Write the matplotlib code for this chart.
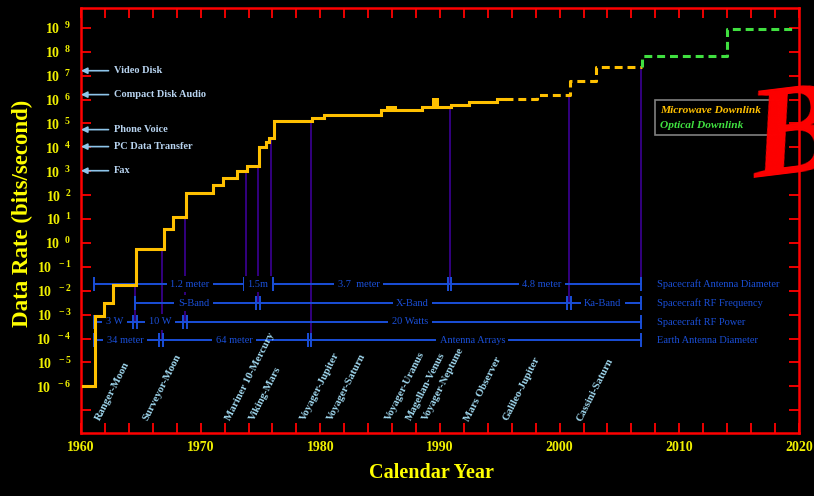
import numpy as np
import matplotlib
matplotlib.use('Agg')
from matplotlib import pyplot as plt
from matplotlib.ticker import FixedLocator, FuncFormatter, NullLocator

plt.rcParams['font.family'] = 'Liberation Serif'
plt.rcParams['mathtext.fontset'] = 'custom'
plt.rcParams['mathtext.rm'] = 'Liberation Serif:bold'
plt.rcParams['mathtext.it'] = 'Liberation Serif:bold'
plt.rcParams['mathtext.bf'] = 'Liberation Serif:bold'

# Deep space downlink capability (bits/second), measured microwave steps
mw_years = [1960.2, 1961.2, 1961.9, 1962.7, 1964.6, 1966.9, 1967.7, 1968.75,
            1971.0, 1971.9, 1973.0, 1973.9, 1974.9, 1975.5, 1975.7, 1976.1,
            1979.3, 1980.3, 1985.1, 1988.5, 1990.9, 1992.4, 1994.8, 1995.4]
mw_rates = [1e-6, 9e-4, 3e-3, 1.8e-2, 0.58, 4.0, 12.6, 126,
            257, 525, 1000, 1700, 10700, 17400, 24000, 123000,
            174000, 234000, 355000, 490000, 590000, 810000, 1.1e6, 1.1e6]

# short-lived peaks (arrayed antennas)
peak_years = [(1985.5, 1986.4), (1989.3, 1989.9)]
peak_base = [355000, 490000]
peak_top = [550000, 1.17e6]

# projected microwave and optical
mw_plan_years = [1995.4, 1998.1, 2000.9, 2003.0, 2006.9]
mw_plan_rates = [1.1e6, 1.6e6, 6.0e6, 2.2e7, 2.2e7]
opt_years = [2006.9, 2006.9, 2013.95, 2019.6]
opt_rates = [2.2e7, 6.6e7, 8.9e8, 8.9e8]

# reference data rates
ref_names = ['Video Disk', 'Compact Disk Audio', 'Phone Voice', 'PC Data Transfer', 'Fax']
ref_rates = [1.6e7, 1.6e6, 5.5e4, 1.07e4, 1.05e3]

# missions
missions = ['Ranger-Moon', 'Surveyor-Moon', 'Mariner 10-Mercury', 'Viking-Mars',
            'Voyager-Jupiter', 'Voyager-Saturn', 'Voyager-Uranus', 'Magellan-Venus',
            'Voyager-Neptune', 'Mars Observer', 'Galileo-Jupiter', 'Cassini-Saturn']
mission_years = [1961.6, 1965.6, 1972.5, 1974.5, 1978.7, 1981.0, 1985.8, 1987.6,
                 1988.9, 1992.4, 1995.7, 2001.8]

# technology rows
row_titles = ['Spacecraft Antenna Diameter', 'Spacecraft RF Frequency',
              'Spacecraft RF Power', 'Earth Antenna Diameter']
row_levels = [1.9e-2, 3.0e-3, 5.0e-4, 8.7e-5]
row_start = [1961.1, 1964.5, 1961.1, 1961.1]
row_end = 2006.8
row_breaks = [[1973.8, 1975.9, 1990.8], [1974.8, 2000.8], [1964.5, 1968.7], [1966.7, 1979.1]]
row_labels = [['1.2 meter', '1.5m', '3.7  meter', '4.8 meter'],
              ['S-Band', 'X-Band', 'Ka-Band'],
              ['3 W', '10 W', '20 Watts'],
              ['34 meter', '64 meter', 'Antenna Arrays']]
row_label_years = [[1969.1, 1974.8, 1983.2, 1998.5],
                   [1969.4, 1987.7, 2003.6],
                   [1962.8, 1966.6, 1987.5],
                   [1963.7, 1972.8, 1992.7]]

# drop lines from the rate curve to the technology rows
drop_years = [1964.5, 1966.8, 1968.7, 1973.8, 1974.8, 1975.9, 1979.2, 1990.8, 2000.8, 2006.8]
drop_rows = [2, 3, 2, 0, 1, 0, 3, 0, 1, 0]

YELLOW = '#ffc000'
BLUE = '#1a4fd8'
PURPLE = '#3c0096'
RED = '#ff0000'
TXT = '#f0f000'

fig = plt.figure(figsize=(8.14, 4.96), dpi=100, facecolor='black')
ax = fig.add_axes([0.0995, 0.127, 0.882, 0.857])
ax.set_facecolor('black')
ax.set_yscale('log')
ax.set_xlim(1960, 2020)
ax.set_ylim(10 ** -7.95, 10 ** 9.83)

all_years = mw_years + mw_plan_years[1:]
all_rates = mw_rates + mw_plan_rates[1:]


def rate_at(year):
    idx = max(i for i, y in enumerate(all_years) if y <= year)
    return all_rates[idx]


for yr, r in zip(drop_years, drop_rows):
    ax.plot([yr, yr], [rate_at(yr), row_levels[r]], color=PURPLE, lw=1.2, zorder=1)

for i, lvl in enumerate(row_levels):
    ax.plot([row_start[i], row_end], [lvl, lvl], color=BLUE, lw=1.4, zorder=2)
    ax.plot([row_start[i], row_end], [lvl, lvl], ls='none', marker='|',
            ms=10, mew=1.4, color=BLUE, zorder=2)
    for b in row_breaks[i]:
        ax.plot([b - 0.15, b + 0.15], [lvl, lvl], ls='none', marker='|',
                ms=10, mew=1.4, color=BLUE, zorder=2)
    for lab, x in zip(row_labels[i], row_label_years[i]):
        ax.text(x, lvl, lab, color=BLUE, fontsize=7.5, ha='center', va='center',
                zorder=3, bbox=dict(facecolor='black', edgecolor='none', pad=2.5))
    ax.text(2008.1, lvl, row_titles[i], color=BLUE, fontsize=7.5, ha='left',
            va='center', zorder=3)

ax.plot(mw_years, mw_rates, drawstyle='steps-post', color=YELLOW, lw=2.2,
        zorder=4, solid_joinstyle='miter')
for (x0, x1), lo, hi in zip(peak_years, peak_base, peak_top):
    ax.fill_between([x0, x1], [lo, lo], [hi, hi], color=YELLOW, lw=0, zorder=4)
mw_line, = ax.plot(mw_plan_years, mw_plan_rates, drawstyle='steps-post', color=YELLOW,
                   lw=2.2, dashes=(2.6, 1.6), zorder=4, label='Microwave Downlink')
opt_line, = ax.plot(opt_years, opt_rates, drawstyle='steps-post', color='#40e040',
                    lw=2.2, dashes=(2.6, 1.6), zorder=4, label='Optical Downlink')

for name, r in zip(ref_names, ref_rates):
    ax.annotate('', xy=(1960.0, r), xytext=(1962.3, r),
                arrowprops=dict(arrowstyle='-|>', color='#8ec5ea', lw=1.2,
                                mutation_scale=9, shrinkA=0, shrinkB=0))
    ax.text(1962.75, r, name, color='#b8d4f0', fontsize=7.5, fontweight='bold',
            ha='left', va='center')

for name, yr in zip(missions, mission_years):
    ax.text(yr, 10 ** -7.47, name, color='#a0d8ef', fontsize=7.8, fontweight='bold',
            rotation=63, rotation_mode='anchor', ha='left', va='baseline')

leg = ax.legend(handles=[mw_line, opt_line], loc='upper left',
                bbox_to_anchor=(0.80, 0.709, 0.172, 0.075), mode='expand',
                borderaxespad=0, handlelength=0, handletextpad=0, labelcolor='linecolor',
                facecolor='black', edgecolor='#808080', fancybox=False, framealpha=1,
                borderpad=0.45, labelspacing=0.45,
                prop=dict(family='Liberation Serif', weight='bold', style='italic', size=8.2))
leg.get_frame().set_linewidth(1.2)
for h in leg.legend_handles:
    h.set_visible(False)

for s in ax.spines.values():
    s.set_color(RED)
    s.set_linewidth(1.8)

ax.xaxis.set_major_locator(FixedLocator(np.arange(1960, 2021, 2)))
ax.xaxis.set_major_formatter(FuncFormatter(lambda v, p: '%d' % v if int(round(v)) % 10 == 0 else ''))
ax.yaxis.set_major_locator(FixedLocator(10.0 ** np.arange(-7, 10)))
ax.yaxis.set_minor_locator(NullLocator())


def decade_label(v, pos):
    e = int(round(np.log10(v)))
    if e < -6:
        return ''
    return r'$10^{\ \ %d}$' % e


ax.yaxis.set_major_formatter(FuncFormatter(decade_label))
ax.tick_params(axis='both', which='major', direction='in', length=7.5, width=1.3,
               color=RED, top=True, right=True, labelcolor=TXT, labelsize=10, pad=6)
ax.tick_params(axis='y', pad=7)
for lab in ax.get_xticklabels():
    lab.set_fontweight('bold')

fig.text(0.027, 0.57, 'Data Rate (bits/second)', color='#ffff00', fontsize=16.5,
         fontweight='bold', rotation=90, ha='center', va='center')
fig.text(0.53, 0.046, 'Calendar Year', color='#ffff00', fontsize=14.5,
         fontweight='bold', ha='center', va='center')
fig.text(0.976, 0.715, 'B', color=RED, fontsize=95, fontstyle='italic',
         fontweight='bold', rotation=7, ha='center', va='center')

fig.savefig('out.png', dpi=100, facecolor='black')
